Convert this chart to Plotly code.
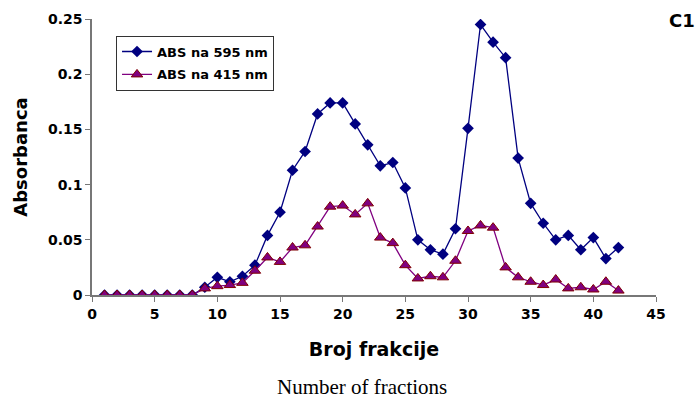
import plotly.graph_objects as go

fractions = list(range(1, 43))
abs_595 = [0, 0, 0, 0, 0, 0, 0, 0, 0.007, 0.016, 0.012, 0.017, 0.027, 0.054,
           0.075, 0.113, 0.13, 0.164, 0.174, 0.174, 0.155, 0.136, 0.117, 0.12,
           0.097, 0.05, 0.041, 0.037, 0.06, 0.151, 0.245, 0.229, 0.215, 0.124,
           0.083, 0.065, 0.05, 0.054, 0.041, 0.052, 0.033, 0.043]
abs_415 = [0, 0, 0, 0, 0, 0, 0, 0, 0.006, 0.008, 0.009, 0.011, 0.022, 0.034,
           0.03, 0.043, 0.045, 0.062, 0.08, 0.081, 0.073, 0.083, 0.052, 0.047,
           0.027, 0.015, 0.017, 0.016, 0.031, 0.058, 0.063, 0.061, 0.025, 0.016,
           0.012, 0.009, 0.014, 0.006, 0.007, 0.005, 0.012, 0.004]
x_ticks = [0, 5, 10, 15, 20, 25, 30, 35, 40, 45]
y_ticks = [0, 0.05, 0.1, 0.15, 0.2, 0.25]
y_tick_text = ["0", "0.05", "0.1", "0.15", "0.2", "0.25"]

SANS = "DejaVu Sans, Liberation Sans, Arial"

fig = go.Figure()
fig.add_trace(go.Scatter(
    x=fractions, y=abs_595, mode="lines+markers", name="ABS na 595 nm",
    legendgroup="a",
    line=dict(color="#000080", width=1.3),
    marker=dict(symbol="diamond", size=9, color="#000080",
                line=dict(color="#000080", width=0)),
))
fig.add_trace(go.Scatter(
    x=fractions, y=abs_415, mode="lines+markers", name="ABS na 415 nm",
    legendgroup="b",
    line=dict(color="#800080", width=1.3),
    marker=dict(symbol="triangle-up", size=10, color="#800080",
                line=dict(color="#800000", width=1)),
))

tick_font = dict(family=SANS, size=14, color="black", weight="bold")
fig.update_layout(
    width=699, height=398,
    margin=dict(l=92, r=43, t=19, b=103),
    plot_bgcolor="white", paper_bgcolor="white",
    showlegend=True,
    legend=dict(x=0.0426, y=0.94, xanchor="left", yanchor="top",
                bgcolor="white", bordercolor="#333", borderwidth=1,
                font=dict(family=SANS, size=13, color="black", weight="bold"),
                tracegroupgap=3, itemwidth=30),
    xaxis=dict(range=[0, 45], tickvals=x_ticks, showgrid=False, zeroline=False,
               showline=True, linecolor="#777", linewidth=1.5,
               ticks="outside", ticklen=5, tickcolor="#777",
               tickfont=tick_font,
               title=dict(text="Broj frakcije",
                          font=dict(family=SANS, size=19, color="black",
                                    weight="bold"),
                          standoff=22)),
    yaxis=dict(range=[0, 0.25], tickvals=y_ticks, ticktext=y_tick_text,
               showgrid=False, zeroline=False,
               showline=True, linecolor="#777", linewidth=1.5,
               ticks="outside", ticklen=5, tickcolor="#777",
               tickfont=tick_font,
               title=dict(text="Absorbanca",
                          font=dict(family=SANS, size=18, color="black",
                                    weight="bold"),
                          standoff=16)),
)
fig.add_annotation(text="C1", xref="paper", yref="paper", x=1.046, y=0.996,
                   xanchor="center", yanchor="middle", showarrow=False,
                   font=dict(family=SANS, size=18, color="black", weight="bold"))
fig.add_annotation(text="Number of fractions", xref="paper", yref="paper",
                   x=0.479, y=-0.333, xanchor="center", yanchor="middle",
                   showarrow=False,
                   font=dict(family="Liberation Serif, Times New Roman", size=21,
                             color="black"))
fig.write_html("out.html", config={"displayModeBar": False},
               post_script="document.body.style.margin='0';")
